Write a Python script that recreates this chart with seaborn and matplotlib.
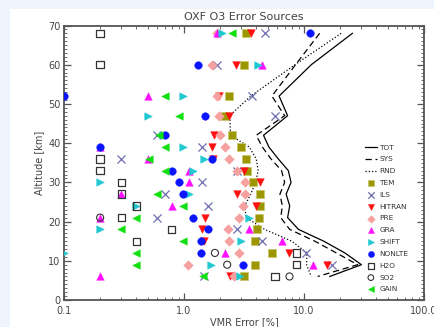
import numpy as np
import pandas as pd
import matplotlib
matplotlib.use("Agg")
import matplotlib.pyplot as plt
from matplotlib.patches import Rectangle
import seaborn as sns

nan = np.nan
altitude = [68, 60, 52, 47, 42, 39, 36, 33, 30, 27, 24, 21, 18, 15, 12, 9, 6]

tot = [25.3, 11.5, 6.2, 7.3, 4.6, 5.1, 6.1, 7.4, 7.8, 7.1, 7.6, 7.3, 9.0, 14.6, 21.9, 30.1, 16.4]
sys_ = [13.5, 8.5, 5.4, 6.9, 4.0, 4.5, 5.3, 6.5, 6.9, 6.3, 6.6, 6.4, 7.6, 12.3, 18.6, 28.0, 13.0]
rnd = [20.4, 8.4, 3.6, 2.4, 2.45, 3.5, 4.0, 4.15, 3.95, 3.6, 3.2, 3.3, 4.7, 7.9, 10.6, 10.5, 11.5]

tem = [3.26, 3.19, 2.39, 2.19, 2.5, 3.0, 3.27, 3.38, 3.77, 4.29, 4.29, 4.18, 4.07, 3.87, 5.43, 3.87, 3.16]
ils = [4.72, 1.87, 3.70, 5.68, 0.60, 1.40, 0.30, 2.79, 1.40, 0.70, 1.59, 0.60, 2.79, 4.43, 10.4, 17.0, 1.47]
hitran = [3.59, 2.70, 1.97, 2.38, 1.79, 1.70, 1.76, 3.15, 4.29, 2.79, 4.0, 1.49, 1.40, 1.48, 7.47, 15.4, 2.42]
pre = [1.89, 1.70, 1.89, 1.97, 2.0, 2.2, 2.39, 2.79, 3.21, 3.21, 3.09, 2.88, 2.31, 2.39, 2.88, 1.09, 2.62]
gra = [1.9, 4.48, 0.50, nan, nan, 0.2, 0.5, 1.10, 1.10, 0.30, 0.80, 0.2, 3.49, 6.58, 2.2, 11.9, 0.2]
shift = [2.06, 4.15, 0.99, 0.50, 0.67, 0.99, 1.48, 1.19, 0.2, 1.1, 0.4, 3.45, 0.2, 2.96, 0.1, 1.69, 2.92]
nonlte = [11.2, 1.30, 0.1, 1.49, 0.70, 0.2, 1.71, 0.80, 0.90, 0.99, nan, 1.19, 1.60, 1.39, 1.39, 3.09, nan]
h2o = [0.2, 0.2, nan, nan, nan, nan, 0.2, 0.2, 0.3, 0.3, 0.4, 0.3, 0.79, 0.4, 8.71, 8.71, 5.75]
so2 = [nan, nan, nan, nan, nan, nan, nan, nan, nan, nan, nan, 0.2, nan, nan, 1.81, 2.29, 7.57]
gain = [2.52, nan, 0.70, 0.90, 0.62, 0.70, 0.51, 0.70, nan, 0.60, 0.99, 0.40, 0.30, 0.99, 0.40, 0.40, 1.43]

xticks = [0.1, 1.0, 10.0, 100.0]
xticklabels = ["0.1", "1.0", "10.0", "100.0"]
yticks = [0, 10, 20, 30, 40, 50, 60, 70]

txt = "#444444"
plt.rcParams["font.family"] = ["DejaVu Sans"]

fig = plt.figure(figsize=(4.35, 3.27), dpi=100)
fig.patch.set_facecolor("#edf4fc")
fig.patches.append(Rectangle((10 / 435, 0), 1, 1 - 9 / 327, transform=fig.transFigure,
                             facecolor="white", edgecolor="none", zorder=-10))
ax = fig.add_axes([64 / 435, 27 / 327, 360 / 435, 274.5 / 327])
ax.set_zorder(1)
ax.set_facecolor("white")

line_specs = [("TOT", tot, "-"), ("SYS", sys_, (0, (5, 3))), ("RND", rnd, (0, (1, 1.6)))]
for name, vals, ls in line_specs:
    sns.lineplot(x=vals, y=altitude, sort=False, estimator=None, color="black",
                 linewidth=0.9, linestyle=ls, label=name, ax=ax, zorder=2)

marker_specs = [
    ("TEM", tem, "s", "#9c9600", "#c8c870", 30, 0.6, False),
    ("ILS", ils, "x", "#6f6fb2", "#6f6fb2", 34, 0.9, False),
    ("HITRAN", hitran, "v", "#ff1010", "#ff1010", 30, 0.3, False),
    ("PRE", pre, "D", "#f7a0a0", "#f7a0a0", 24, 0.3, False),
    ("GRA", gra, "^", "#ff10ff", "#ff10ff", 30, 0.3, False),
    ("SHIFT", shift, ">", "#20c8d0", "#20c8d0", 30, 0.3, False),
    ("NONLTE", nonlte, "o", "#0a14ff", "#0a14ff", 30, 0.3, False),
    ("H2O", h2o, "s", "#333333", "#333333", 28, 0.9, True),
    ("SO2", so2, "o", "#333333", "#333333", 26, 0.8, True),
    ("GAIN", gain, "<", "#10e010", "#10e010", 30, 0.3, False),
]
for name, vals, mk, fc, ec, s, lw, hollow in marker_specs:
    df = pd.DataFrame({"x": vals, "y": altitude}).dropna()
    sns.scatterplot(data=df, x="x", y="y", marker=mk, color=fc, edgecolor=ec,
                    s=s, linewidth=lw, label=name, ax=ax, zorder=3)
    if hollow:
        ax.collections[-1].set_facecolor("none")
        ax.collections[-1].set_edgecolor(ec)

ax.set_xscale("log")
ax.set_xlim(0.1, 100)
ax.set_ylim(0, 70)
ax.set_xticks(xticks)
ax.set_xticklabels(xticklabels)
ax.set_yticks(yticks)
ax.set_yticks(np.arange(0, 71, 1), minor=True)
ax.tick_params(which="both", direction="in", top=True, right=True, colors="#555555",
               labelcolor=txt, labelsize=7)
ax.tick_params(axis="y", pad=2.5)
ax.tick_params(axis="x", pad=4)
ax.tick_params(which="major", length=5, width=0.9)
ax.tick_params(which="minor", length=2.5, width=0.6)
for sp in ax.spines.values():
    sp.set_color("#555555")
    sp.set_linewidth(1.3)

ax.set_xlabel("VMR Error [%]", fontsize=7, color=txt, labelpad=1)
ax.set_ylabel("Altitude [km]", fontsize=7, color=txt, labelpad=3)
ax.set_title("OXF O3 Error Sources", fontsize=8, color=txt, pad=4)

leg = ax.legend(loc="upper left", bbox_to_anchor=(0.835, 0.567), frameon=False,
                fontsize=5.3, borderpad=0, labelspacing=0.77, handlelength=1.7,
                handletextpad=0.3, borderaxespad=0, markerscale=0.8)
for t in leg.get_texts():
    t.set_color("#333333")

fig.savefig("out.png", dpi=100, facecolor=fig.get_facecolor())
